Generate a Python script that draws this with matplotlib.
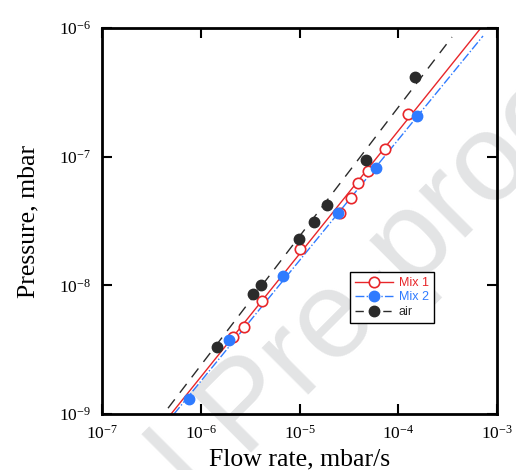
import numpy as np
import matplotlib
matplotlib.use('Agg')
import matplotlib.pyplot as plt

plt.rcParams['font.family'] = 'Liberation Serif'
plt.rcParams['mathtext.fontset'] = 'custom'
plt.rcParams['mathtext.rm'] = 'Liberation Serif'

# flow rate (mbar/s) and pressure (mbar)
mix1_q = [2.12e-6, 2.74e-6, 4.17e-6, 1.01e-5, 2.57e-5, 3.33e-5, 3.91e-5, 4.94e-5, 7.35e-5, 1.26e-4]
mix1_p = [3.97e-9, 4.75e-9, 7.55e-9, 1.91e-8, 3.65e-8, 4.77e-8, 6.24e-8, 7.74e-8, 1.15e-7, 2.15e-7]
mix2_q = [7.6e-7, 1.93e-6, 6.81e-6, 2.45e-5, 5.96e-5, 1.55e-4]
mix2_p = [1.31e-9, 3.76e-9, 1.18e-8, 3.65e-8, 8.17e-8, 2.07e-7]
air_q = [1.46e-6, 3.38e-6, 4.07e-6, 9.9e-6, 1.40e-5, 1.90e-5, 4.71e-5, 1.48e-4]
air_p = [3.32e-9, 8.57e-9, 1.01e-8, 2.29e-8, 3.10e-8, 4.21e-8, 9.42e-8, 4.16e-7]

# fitted lines, end points
mix1_fit_q = [5.0e-7, 6.73e-4]
mix1_fit_p = [1.0e-9, 9.82e-7]
mix2_fit_q = [5.36e-7, 7.21e-4]
mix2_fit_p = [1.0e-9, 8.67e-7]
air_fit_q = [4.66e-7, 3.50e-4]
air_fit_p = [1.11e-9, 8.51e-7]

red = '#e8262a'
blue = '#2f7bff'
dark = '#2b2b2b'

fig = plt.figure(figsize=(5.16, 4.70), dpi=100)
ax = fig.add_axes([0.1977, 0.1191, 0.7655, 0.8213])
ax.set_facecolor('none')

ax.plot(mix1_fit_q, mix1_fit_p, '-', color=red, lw=1)
ax.plot(mix2_fit_q, mix2_fit_p, '-.', color=blue, lw=1)
ax.plot(air_fit_q, air_fit_p, '--', color=dark, lw=1, dashes=(8, 6))

ax.plot(mix1_q, mix1_p, 'o', mfc='white', mec=red, mew=1.2, ms=7.5, ls='none')
ax.plot(mix2_q, mix2_p, 'o', color=blue, ms=7.5, ls='none')
ax.plot(air_q, air_p, 'o', color=dark, ms=7.5, ls='none')

# legend proxies
h1, = ax.plot([], [], '-o', color=red, mfc='white', mec=red, mew=1.2, ms=7.5, lw=1)
h2, = ax.plot([], [], '-.o', color=blue, ms=7.5, lw=1)
h3, = ax.plot([], [], '--o', color=dark, ms=7.5, lw=1, dashes=(6, 4))
leg = ax.legend([h1, h2, h3], ['Mix 1', 'Mix 2', 'air'], loc='upper left',
                bbox_to_anchor=(0.628, 0.368), fancybox=False, framealpha=1,
                edgecolor='black', borderpad=0.4, labelspacing=0.2,
                handlelength=3.0, handletextpad=0.5, borderaxespad=0,
                prop={'family': 'Liberation Sans', 'size': 9})
leg.get_frame().set_linewidth(1)
for t, c in zip(leg.get_texts(), [red, blue, dark]):
    t.set_color(c)

ax.set_xscale('log')
ax.set_yscale('log')
ax.set_xlim(1e-7, 1e-3)
ax.set_ylim(1e-9, 1e-6)
ax.minorticks_off()
ax.tick_params(which='major', direction='in', length=7, width=1.5,
               top=True, right=True, labelsize=12.5, pad=8)
for s in ax.spines.values():
    s.set_linewidth(2)

ax.set_xlabel('Flow rate, mbar/s', fontsize=18.5, labelpad=4)
ax.set_ylabel('Pressure, mbar', fontsize=18.5, labelpad=14)

# watermark sits behind the (transparent) axes
fig.text(0.481, 0.128, 'Journal Pre-proof', fontsize=90, rotation=45,
         family='Liberation Sans', color='#e3e4e5',
         ha='center', va='center', zorder=-1)

fig.savefig('out.png', dpi=100)
